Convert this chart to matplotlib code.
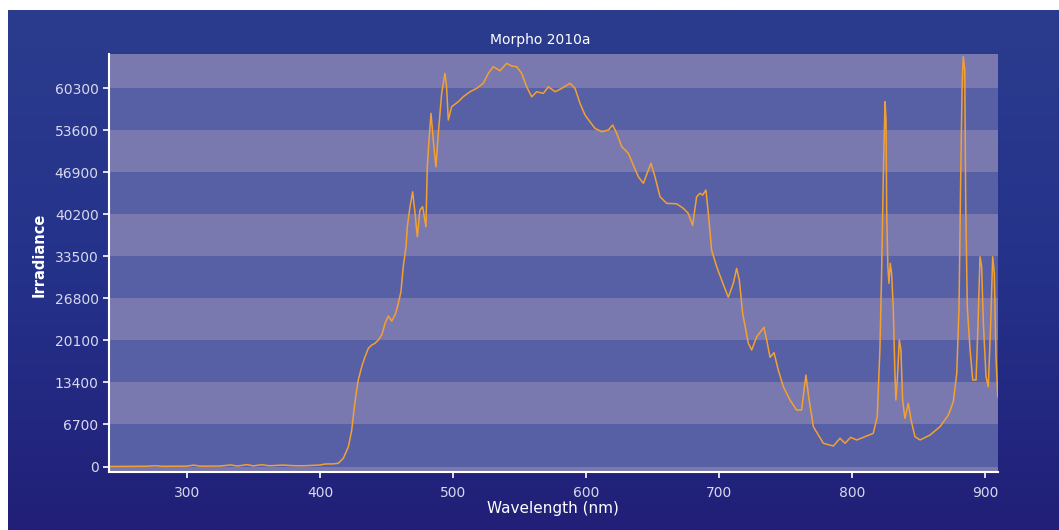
import matplotlib
matplotlib.use("Agg")
import matplotlib.pyplot as plt
import numpy as np
from matplotlib.colors import LinearSegmentedColormap

# Spectrum (wavelength in nm, irradiance)
wavelength = [
    241, 270, 276, 282, 300, 305, 310, 325, 333, 338, 345, 350, 356, 362, 372, 380, 388,
    400, 404, 410, 413.8, 417.6, 421.4, 423.9, 425.6, 427.6, 428.8, 431.4, 433.9, 436.4,
    438.9, 441.4, 443.9, 446.4, 447.6, 448.9, 451.4, 453.9, 456.4, 457.7, 458.9, 460.9,
    462.7, 464.7, 465.7, 467.7, 469.7, 471.5, 473.2, 475.2, 477.2, 479.7, 480.7, 482.2,
    483.5, 485.2, 487.2, 489, 491.5, 494, 495.2, 496.5, 499, 504, 507.7, 512.8, 517.8,
    522.8, 526.6, 530.3, 535.4, 540.4, 544.2, 547.9, 551.7, 555.4, 559.2, 563, 568,
    571.7, 576.8, 581.8, 588, 591.8, 595.5, 599.3, 603, 606.8, 611.8, 616.8, 620.1,
    623.1, 626.9, 631.9, 635.6, 639.4, 643.2, 646.9, 648.9, 651.9, 655.7, 660.7, 668.2,
    673.2, 676.9, 680.2, 683.2, 685.7, 687.7, 690.2, 692, 694.5, 698.3, 702, 707, 710.8,
    713.3, 715.3, 717.8, 722.1, 724.6, 728.4, 733.8, 735.9, 738.4, 741.4, 744.6, 748.4,
    753.4, 758.4, 762.1, 765.4, 767.5, 771, 778.5, 786, 791, 794.8, 799, 803.6, 811, 816,
    819, 821, 822.3, 823.6, 824.9, 825.6, 826.1, 827, 827.8, 828.8, 829.8, 831, 832.3,
    833, 834.1, 835.6, 836.8, 838.1, 839.8, 842.4, 844.4, 847.4, 851.2, 858.7, 866.2,
    872.5, 876.2, 878.8, 880.5, 881.8, 882.8, 883.7, 884.8, 885.5, 886.7, 888.8, 890.8,
    893.3, 894.8, 896.3, 897.5, 898.8, 900.8, 902.5, 904.3, 905.8, 907, 908.3, 909.6,
]
irradiance = [
    0, 40, 120, 30, 60, 220, 50, 80, 250, 70, 300, 100, 280, 120, 230, 130, 120,
    240, 400, 420, 510, 1310, 3160, 5820, 9010, 12200, 13800, 15920, 17510, 18850,
    19380, 19650, 20180, 20970, 21770, 22840, 24000, 23200, 24160, 25000, 26030, 27880,
    32000, 35000, 38250, 41440, 43830, 40390, 36650, 40910, 41440, 38250, 47820, 52600,
    56330, 52080, 47820, 53140, 59520, 62710, 60580, 55270, 57390, 58190, 58980, 59780, 60320,
    61120, 62710, 63770, 63130, 64310, 63880, 63770, 62710, 60580, 58980, 59780, 59520,
    60580, 59780, 60320, 61120, 60320, 57930, 56060, 54990, 53940, 53400, 53670, 54470,
    53140, 51010, 49960, 48090, 46220, 45170, 47290, 48360, 46220, 43030, 41980, 41900,
    41180, 40390, 38450, 43030, 43580, 43300, 44100, 40390, 34500, 31870, 29750, 27000, 29220,
    31610, 29750, 24430, 19650, 18580, 20700, 22200, 20180, 17420, 18150, 15390, 12730,
    10600, 9010, 9010, 14590, 11000, 6350, 3700, 3270, 4500, 3700, 4650, 4230, 4860, 5290,
    7950, 18580, 30860, 46760, 58190, 55270, 40910, 31870, 29220, 32410, 30810, 25490, 14870,
    10600, 13800, 20180, 18580, 10600, 7680, 10080, 7420, 4750, 4230, 5020, 6350,
    8210, 10340, 14870, 25490, 46760, 60580, 65360, 63240, 42510, 25490, 18580, 13800,
    13800, 22840, 33460, 31870, 22840, 14320, 12730, 22840, 33460, 30810, 17510, 11130,
]
y_ticks = [0, 6700, 13400, 20100, 26800, 33500, 40200, 46900, 53600, 60300]
x_ticks = [300, 400, 500, 600, 700, 800, 900]

W, H = 1059, 530
fig = plt.figure(figsize=(W / 100, H / 100), dpi=100)
fig.patch.set_facecolor("white")

# gradient blue panel (white strip on top and left as in the reference)
bg = fig.add_axes([8 / W, 0, 1 - 8 / W, (H - 10) / H], zorder=0)
cmap = LinearSegmentedColormap.from_list("bg", ["#2B3C8E", "#25328A", "#211F78"])
bg.imshow(np.linspace(0, 1, 256).reshape(-1, 1), aspect="auto", cmap=cmap,
          extent=[0, 1, 0, 1])
bg.axis("off")

ax = fig.add_axes([109 / W, (H - 472) / H, 889 / W, 418 / H], zorder=1)
ymin, ymax = -877, 65800
ax.set_xlim(241.4, 909.8)
ax.set_ylim(ymin, ymax)

# alternating horizontal bands
light, dark = "#7A79AF", "#5760A4"
edges = [ymin] + y_ticks + [ymax]
for i in range(len(edges) - 1):
    ax.axhspan(edges[i], edges[i + 1], color=light if i % 2 == 0 else dark, lw=0, zorder=0)

ax.plot(wavelength, irradiance, color="#F3A033", lw=1.1, zorder=2)

for s in ["top", "right"]:
    ax.spines[s].set_visible(False)
for s in ["left", "bottom"]:
    ax.spines[s].set_color("white")
    ax.spines[s].set_linewidth(1.5)

ax.set_xticks(x_ticks)
ax.set_yticks(y_ticks)
ax.tick_params(colors="white", labelcolor="#D8D8EE", labelsize=10, length=4, width=1.2)
ax.tick_params(axis="x", pad=6)
ax.set_facecolor("none")

fig.text(540 / W, 1 - 40 / H, "Morpho 2010a", color="white", fontsize=10,
         ha="center", va="center")
fig.text(553 / W, 1 - 509 / H, "Wavelength (nm)", color="white", fontsize=11,
         ha="center", va="center")
fig.text(39 / W, 1 - 255 / H, "Irradiance", color="white", fontsize=10.5,
         fontweight="bold", rotation=90, ha="center", va="center")

fig.savefig("out.png", dpi=100)
